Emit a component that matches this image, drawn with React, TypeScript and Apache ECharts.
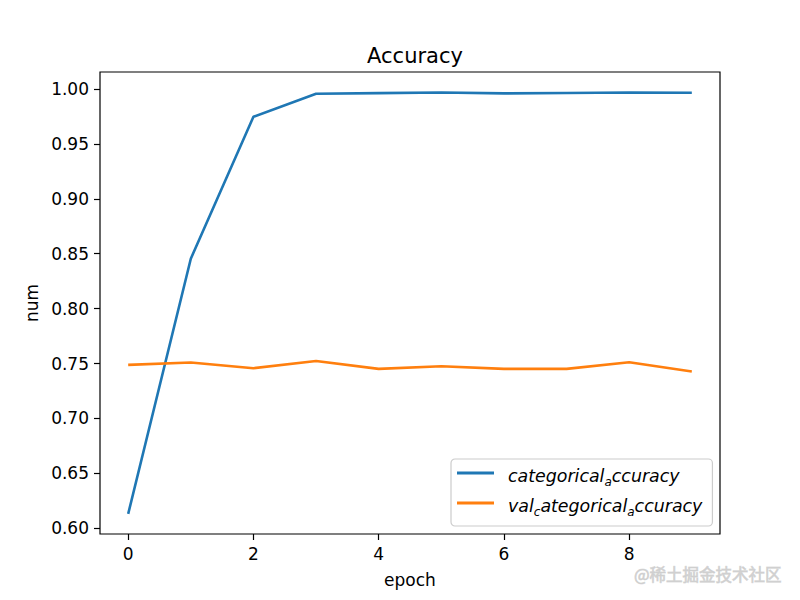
import React, { useEffect, useRef } from "react";
import * as echarts from "echarts";

const epochs = [0, 1, 2, 3, 4, 5, 6, 7, 8, 9];
const categoricalAccuracy = [0.6131, 0.8455, 0.9747, 0.9957, 0.9963, 0.9968, 0.996, 0.9964, 0.9968, 0.9966];
const valCategoricalAccuracy = [0.7488, 0.7509, 0.7458, 0.7524, 0.7452, 0.7476, 0.7452, 0.7452, 0.7512, 0.7427];
const xTicks = [0, 2, 4, 6, 8];
const yTicks = [0.6, 0.65, 0.7, 0.75, 0.8, 0.85, 0.9, 0.95, 1.0];
const seriesNames = ["categorical_accuracy", "val_categorical_accuracy"];

const FONT = "DejaVu Sans";

export default function App() {
  const ref = useRef<HTMLDivElement>(null);
  useEffect(() => {
    if (!ref.current) return;
    const chart = echarts.init(ref.current, null, { renderer: "svg" });
    const axisCommon = {
      splitLine: { show: false },
      axisLine: { show: false, onZero: false },
      axisTick: { show: true, inside: false, length: 6, lineStyle: { color: "#000", width: 1.2 } },
      nameTextStyle: { fontFamily: FONT, fontSize: 17, color: "#000" },
    };
    chart.setOption({
      animation: false,
      backgroundColor: "#fff",
      textStyle: { fontFamily: FONT },
      grid: {
        left: 100,
        right: 80,
        top: 72,
        bottom: 66,
        show: true,
        borderColor: "#000",
        borderWidth: 1.2,
        backgroundColor: "transparent",
      },
      xAxis: {
        type: "value",
        min: -0.45,
        max: 9.45,
        name: "epoch",
        nameLocation: "middle",
        nameGap: 37,
        ...axisCommon,
        axisTick: { ...axisCommon.axisTick, customValues: xTicks },
        axisLabel: {
          customValues: xTicks,
          fontFamily: FONT,
          fontSize: 17,
          color: "#000",
          margin: 11,
          formatter: (v: number) => String(v),
        },
      },
      yAxis: {
        type: "value",
        min: 0.5948,
        max: 1.0155,
        name: "num",
        nameLocation: "middle",
        nameGap: 60,
        ...axisCommon,
        axisTick: { ...axisCommon.axisTick, customValues: yTicks },
        axisLabel: {
          customValues: yTicks,
          fontFamily: FONT,
          fontSize: 17,
          color: "#000",
          margin: 11,
          formatter: (v: number) => v.toFixed(2),
        },
      },
      title: {
        text: "Accuracy",
        left: 410,
        top: 40,
        textAlign: "center",
        textStyle: { fontFamily: FONT, fontSize: 21, fontWeight: "normal", color: "#000" },
      },
      legend: {
        orient: "vertical",
        left: 451,
        top: 459,
        padding: [8, 10, 8, 6],
        itemWidth: 37,
        itemHeight: 3,
        itemGap: 9,
        icon: "rect",
        backgroundColor: "rgba(255,255,255,0.8)",
        borderColor: "#cccccc",
        borderWidth: 1.2,
        borderRadius: 4,
        data: seriesNames,
        formatter: (name: string) => {
          if (name === "categorical_accuracy") return "{i|categorical}{s|a}{i|ccuracy}";
          return "{i|val}{s|c}{i|ategorical}{s|a}{i|ccuracy}";
        },
        textStyle: {
          padding: [0, 0, 0, 9],
          rich: {
            i: { fontFamily: FONT, fontStyle: "italic", fontSize: 17.4, color: "#000", lineHeight: 22, verticalAlign: "bottom" },
            s: { fontFamily: FONT, fontStyle: "italic", fontSize: 12, color: "#000", lineHeight: 22, verticalAlign: "bottom", padding: [0, 0, -4, 0] },
          },
        },
      },
      series: [
        {
          name: seriesNames[0],
          type: "line",
          data: epochs.map((e, i) => [e, categoricalAccuracy[i]]),
          symbol: "none",
          lineStyle: { color: "#1f77b4", width: 2.6 },
          itemStyle: { color: "#1f77b4" },
        },
        {
          name: seriesNames[1],
          type: "line",
          data: epochs.map((e, i) => [e, valCategoricalAccuracy[i]]),
          symbol: "none",
          lineStyle: { color: "#ff7f0e", width: 2.6 },
          itemStyle: { color: "#ff7f0e" },
        },
      ],
      graphic: [
        {
          type: "text",
          right: 18,
          top: 565,
          style: {
            text: "@稀土掘金技术社区",
            fontFamily: "Noto Sans CJK SC",
            fontSize: 16.5,
            fill: "rgba(205,205,205,0.9)",
            stroke: "rgba(120,120,120,0.25)",
            lineWidth: 1,
          },
        },
      ],
    });
    return () => chart.dispose();
  }, []);
  return (
    <div
      ref={ref}
      style={{ width: 800, height: 600, position: "absolute", left: 0, top: 0 }}
    />
  );
}
